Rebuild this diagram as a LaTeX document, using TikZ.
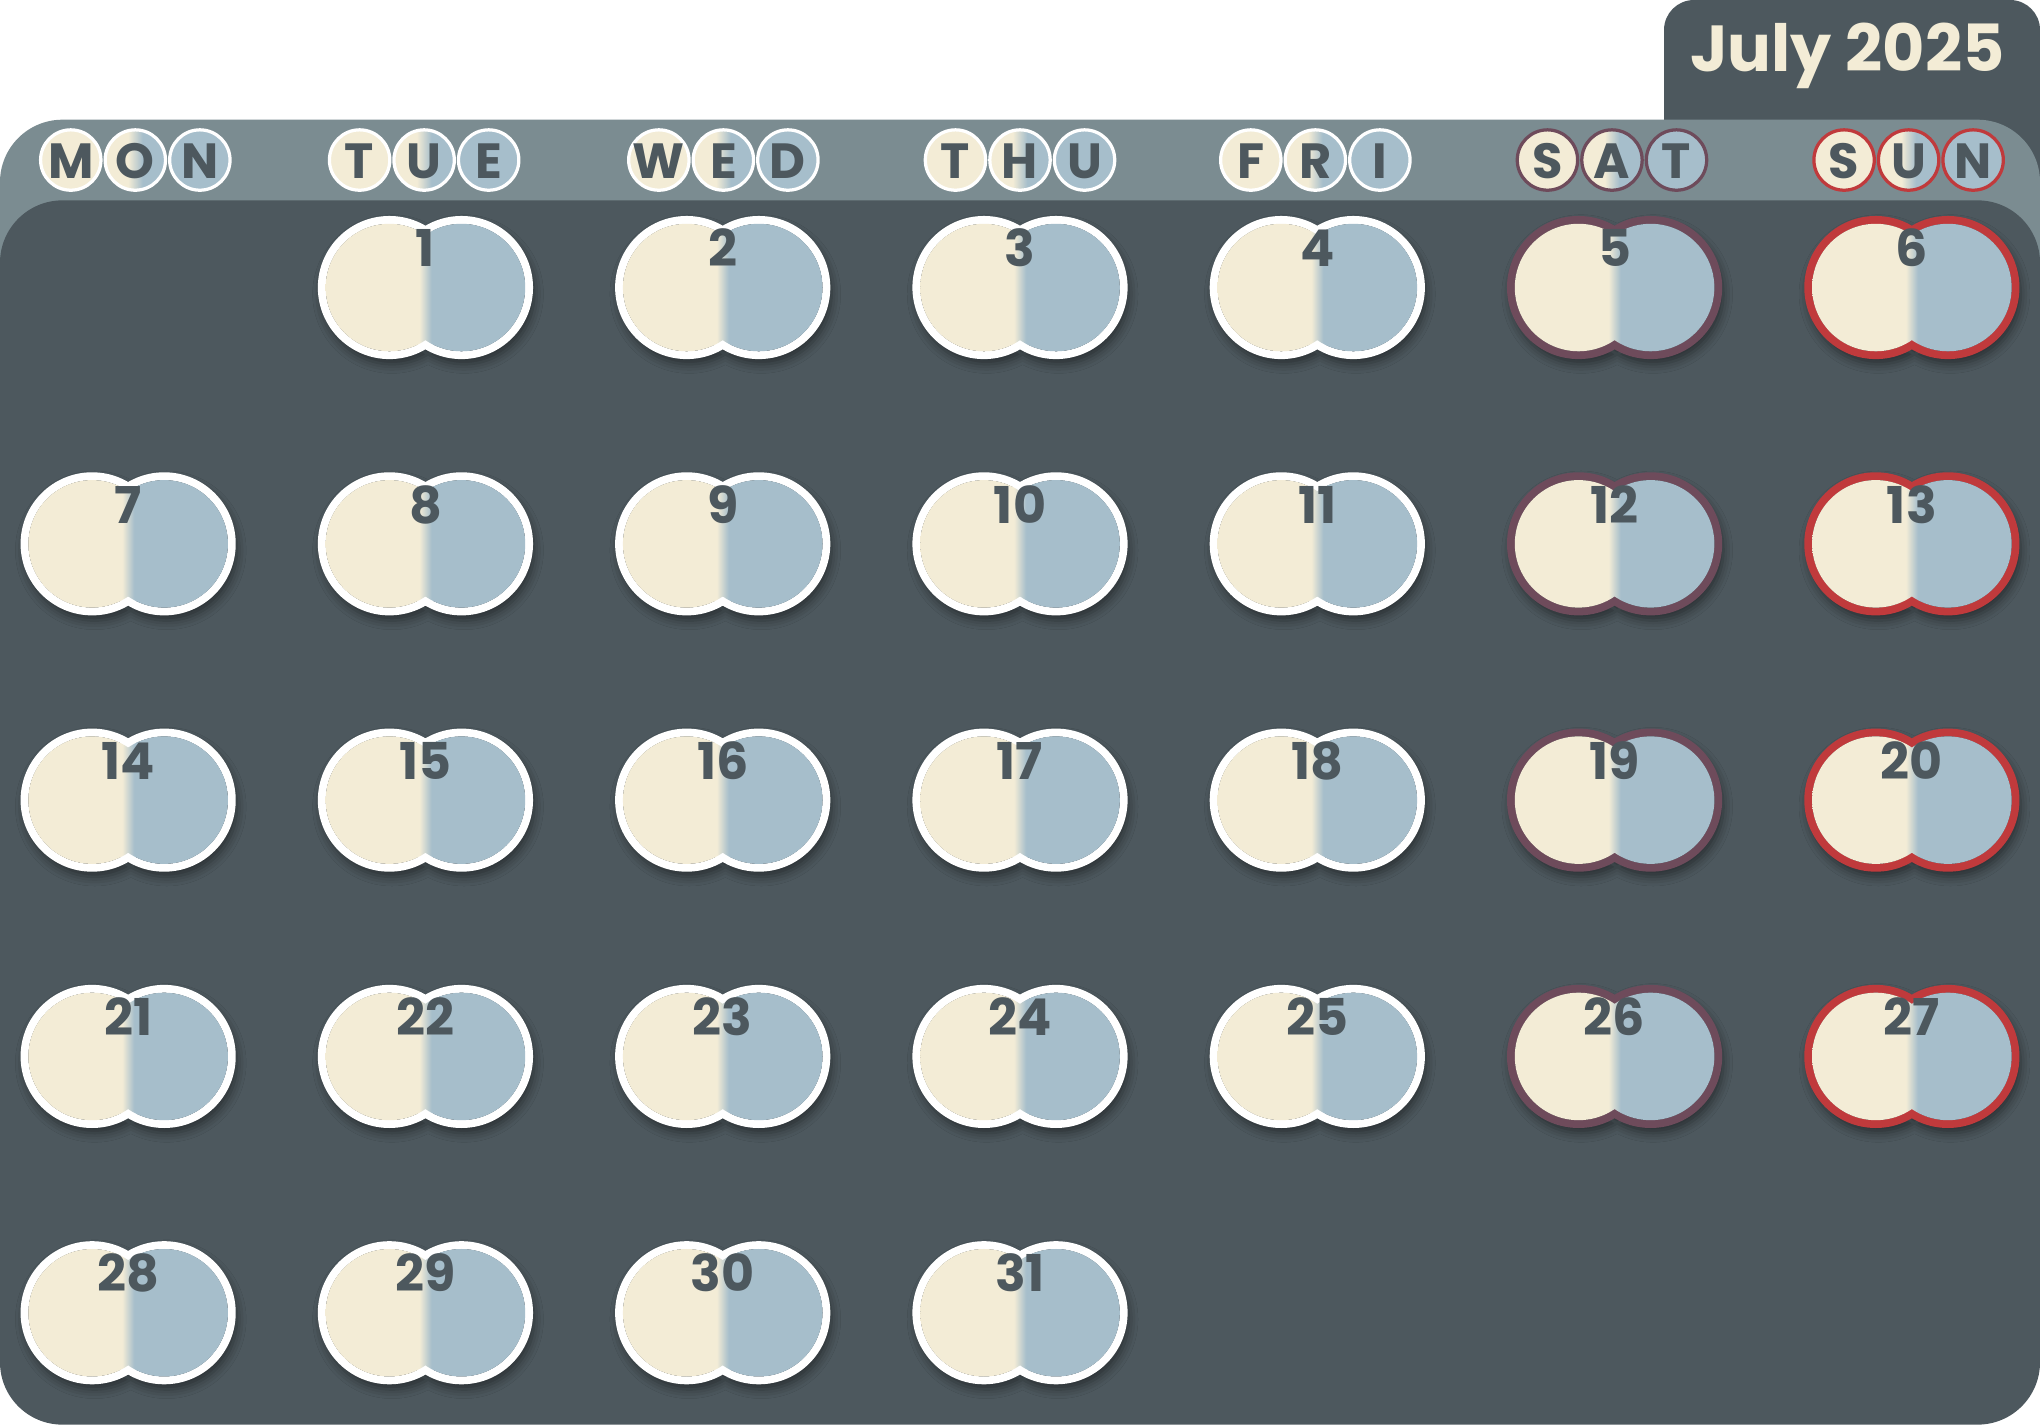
\documentclass[tikz,border=0pt]{standalone}
\usepackage{fontspec}
\setmainfont{Poppins}
\usetikzlibrary{shadows.blur}

\definecolor{bodygrey}{HTML}{4D585E}
\definecolor{bandgrey}{HTML}{7B8C91}
\definecolor{cream}{HTML}{F3ECD6}
\definecolor{paleblue}{HTML}{A6BECB}
\definecolor{satline}{HTML}{6E4B5B}
\definecolor{sunline}{HTML}{C03A3C}

\pgfdeclarehorizontalshading{daysplit}{100bp}{color(0bp)=(cream); color(48.5bp)=(cream); color(51.5bp)=(paleblue); color(100bp)=(paleblue)}
\pgfdeclarehorizontalshading{lettersplit}{100bp}{color(0bp)=(cream); color(44bp)=(cream); color(56bp)=(paleblue); color(100bp)=(paleblue)}

\tikzset{
  daynum/.style={anchor=base, inner sep=0pt, text=bodygrey, font=\fontsize{39}{39}\selectfont\bfseries},
  dayletter/.style={anchor=base, inner sep=0pt, text=bodygrey, font=\fontsize{38}{38}\selectfont\bfseries},
  bubbleshadow/.style={blur shadow={shadow xshift=2pt, shadow yshift=-5pt, shadow blur radius=7pt, shadow opacity=45}},
}

\begin{document}
\begin{tikzpicture}[x=1pt,y=-1pt]
    \useasboundingbox[fill=white] (0,0) rectangle (1568,1095);

    % Draw the tab, the header band and the body
    \fill[bodygrey, rounded corners=23pt] (1279,0) rectangle (1568,200);
    \fill[bandgrey, rounded corners=48pt] (0,92) rectangle (1568,400);
    \fill[bodygrey, rounded corners=48pt] (0,154) rectangle (1568,1095);
    \node[anchor=base east, inner sep=0pt, text=cream, font=\fontsize{50}{50}\selectfont\bfseries] (month) at (1541,55) {July 2025};

    % Draw the names of the week days
    \foreach \hx/\la/\lb/\lc/\ring [count=\i] in {104/M/O/N/white, 326/T/U/E/white, 556/W/E/D/white, 784/T/H/U/white, 1011/F/R/I/white, 1239/S/A/T/satline, 1467/S/U/N/sunline} {
        \draw[\ring, line width=2.5pt, fill=cream] (\hx-49.6,123) circle (23.2);
        \draw[\ring, line width=2.5pt, shading=lettersplit] (\hx,123) circle (23.2);
        \draw[\ring, line width=2.5pt, fill=paleblue] (\hx+49.6,123) circle (23.2);
        \node[dayletter] (hd\i a) at (\hx-49.6,137) {\la};
        \node[dayletter] (hd\i b) at (\hx,137) {\lb};
        \node[dayletter] (hd\i c) at (\hx+49.6,137) {\lc};
    }

    % Draw the days, July 1 is a Tuesday
    \foreach \d in {1,...,31} {
        \pgfmathtruncatemacro{\col}{mod(\d,7)}
        \pgfmathtruncatemacro{\row}{floor(\d/7)}
        \pgfmathsetmacro{\cx}{98.5+228.5*\col}
        \pgfmathsetmacro{\cy}{221+197*\row}
        \ifnum\col=5 \def\ring{satline}\else\ifnum\col=6 \def\ring{sunline}\else\def\ring{white}\fi\fi
        \path[bubbleshadow] (\cx-27.7,\cy) circle (54) (\cx+27.7,\cy) circle (54);
        \draw[\ring, line width=6pt] (\cx-27.7,\cy) circle (52) (\cx+27.7,\cy) circle (52);
        \path[shading=daysplit] (\cx-27.7,\cy) circle (49) (\cx+27.7,\cy) circle (49);
        \node[daynum] (day\d) at (\cx,\cy-16) {\d};
    }
\end{tikzpicture}
\end{document}
